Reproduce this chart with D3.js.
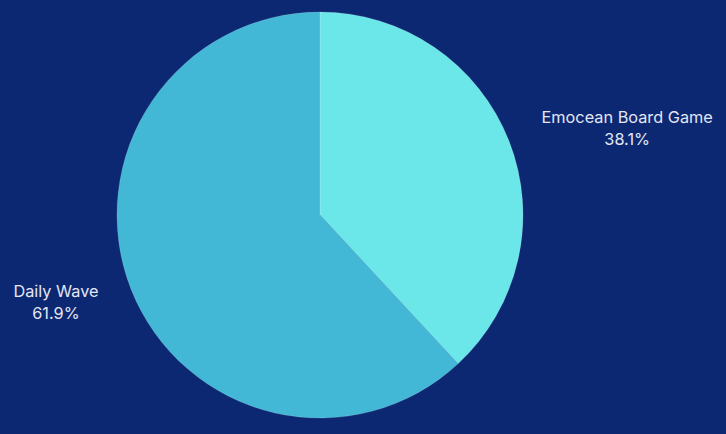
<!DOCTYPE html>
<html>
<head>
<meta charset="utf-8">
<script src="https://cdn.jsdelivr.net/npm/d3@7"></script>
<style>
  html, body { margin: 0; padding: 0; background: #0c2872; }
  svg { display: block; }
</style>
</head>
<body>
<svg id="chart" width="726" height="434"></svg>
<script>
// data
var categories = ["Emocean Board Game", "Daily Wave"];
var shares = [38.1, 61.9];
var colors = ["#6be6e9", "#43b7d6"];

var svg = d3.select("#chart"),
    width = +svg.attr("width"),
    height = +svg.attr("height");

var cx = 320, cy = 215, radius = 203, labelRadius = 238;

svg.append("rect").attr("width", width).attr("height", height).attr("fill", "#0c2872");

var rows = categories.map(function (c, i) { return { name: c, value: shares[i], color: colors[i] }; });

var pie = d3.pie().sort(null).value(function (d) { return d.value; });
var arc = d3.arc().innerRadius(0).outerRadius(radius);

var g = svg.append("g").attr("transform", "translate(" + cx + "," + cy + ")");

var arcs = pie(rows);

g.selectAll("path.slice")
  .data(arcs)
  .enter().append("path")
  .attr("class", "slice")
  .attr("d", arc)
  .attr("fill", function (d) { return d.data.color; })
  .attr("stroke", "rgba(255,255,255,0.25)")
  .attr("stroke-width", 0.6);

// labels: inner edge of the text block sits on the mid-angle at labelRadius
arcs.forEach(function (d) {
  var a = (d.startAngle + d.endAngle) / 2;
  var px = Math.sin(a) * labelRadius, py = -Math.cos(a) * labelRadius;
  var side = px >= 0 ? 1 : -1;
  var lg = g.append("g");
  var lines = [d.data.name, d.data.value.toFixed(1) + "%"];
  var texts = lines.map(function (s, i) {
    return lg.append("text")
      .attr("text-anchor", "middle")
      .attr("y", py + (i - 0.5) * 22 + 6)
      .attr("fill", "#e3e6f3")
      .style("font-family", "Inter, 'Noto Sans', sans-serif")
      .style("font-size", "16.3px")
      .text(s);
  });
  var w = d3.max(texts, function (t) { return t.node().getComputedTextLength(); });
  texts.forEach(function (t) { t.attr("x", px + side * w / 2); });
});
</script>
</body>
</html>
